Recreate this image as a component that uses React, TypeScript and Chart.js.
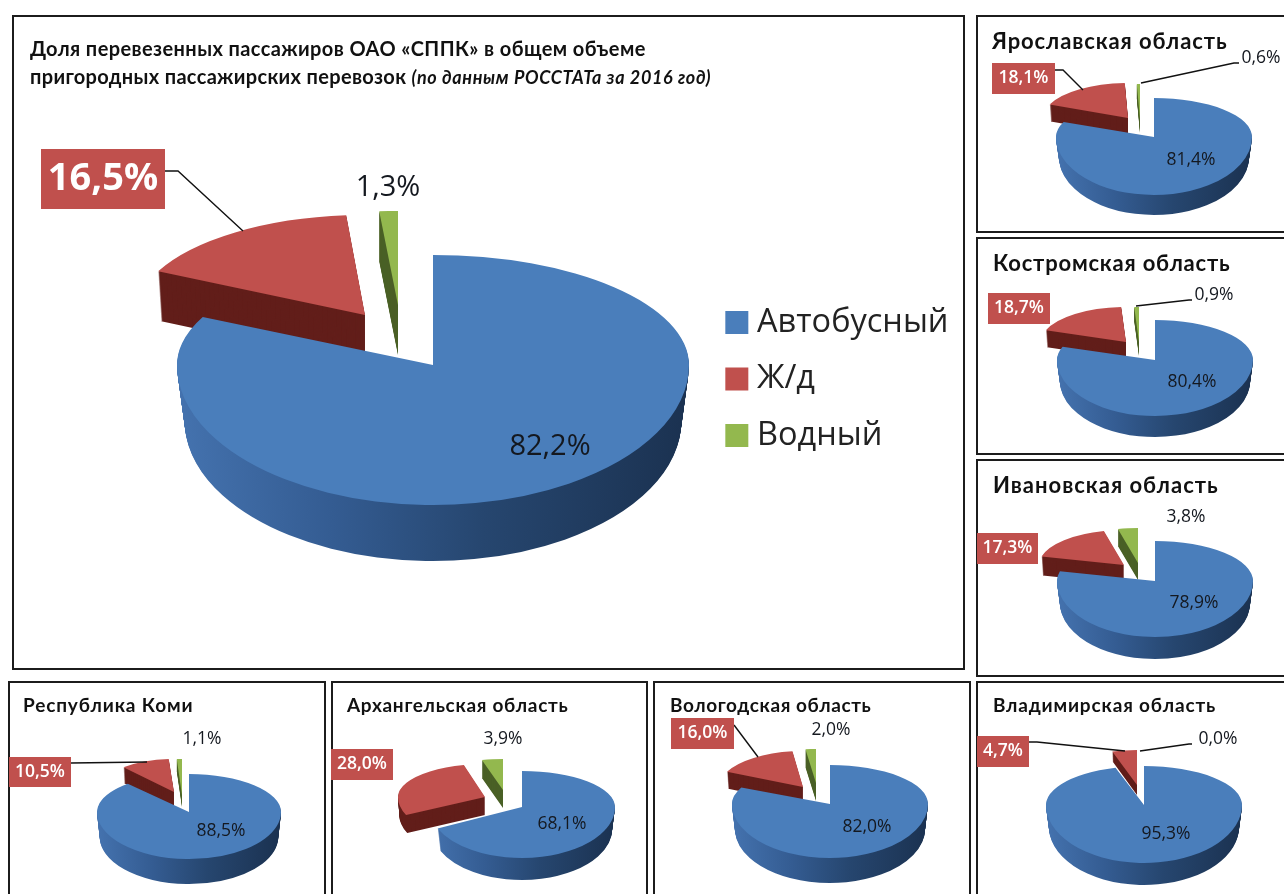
import React, { useEffect, useRef } from "react";
import { Chart, registerables } from "chart.js";

Chart.register(...registerables);

const modes = ["Автобусный", "Ж/д", "Водный"];
const regions = [
  "Всего",
  "Ярославская область",
  "Костромская область",
  "Ивановская область",
  "Республика Коми",
  "Архангельская область",
  "Вологодская область",
  "Владимирская область",
];
const busShare = [82.2, 81.4, 80.4, 78.9, 88.5, 68.1, 82.0, 95.3];
const railShare = [16.5, 18.1, 18.7, 17.3, 10.5, 28.0, 16.0, 4.7];
const waterShare = [1.3, 0.6, 0.9, 3.8, 1.1, 3.9, 2.0, 0.0];

const FONT = '"Open Sans", "Noto Sans", sans-serif';
const TITLE_FONT = 'Lato, "Open Sans", sans-serif';
const BLUE = "#4A7EBB";
const RED = "#C0504D";
const GREEN = "#93B84E";
const SHRINK = [0.03, 0.015, 0];

type Slice = { ax: number; ay: number; rx: number; up: number; down: number; depth: number };
type Layout = {
  rect: [number, number, number, number];
  title?: { left: number; top: number; size: number; spacing: number };
  slices: [Slice, Slice, Slice];
  busAt: [number, number];
  waterAt: [number, number];
  box: [number, number, number, number];
  boxFont: number;
  boxWeight: number;
  labelFont: number;
  railLeader?: [number, number][];
  waterLeader?: [number, number][];
};

const s = (ax: number, ay: number, rx: number, up: number, down: number, depth: number): Slice => ({ ax, ay, rx, up, down, depth });

const layouts: Layout[] = [
  {
    rect: [12, 15, 953, 655],
    slices: [s(433, 365, 256, 110, 140, 56), s(365, 315, 230, 100, 100, 50), s(398, 305, 230, 94, 94, 50)],
    busAt: [550, 447],
    waterAt: [388, 188],
    box: [41, 149, 124, 60],
    boxFont: 38,
    boxWeight: 700,
    labelFont: 29,
    railLeader: [[165, 171], [178, 171], [243, 231]],
  },
  {
    rect: [976, 15, 320, 218],
    title: { left: 992, top: 28, size: 22, spacing: 0.9 },
    slices: [s(1154, 137, 98, 39, 58, 20), s(1128, 118, 85, 35, 35, 17), s(1140, 119, 85, 35, 35, 14)],
    busAt: [1191, 160],
    waterAt: [1261, 58],
    box: [992, 63, 63, 31],
    boxFont: 17.5,
    boxWeight: 600,
    labelFont: 17.5,
    railLeader: [[1055, 70], [1063, 70], [1083, 90]],
    waterLeader: [[1239, 63], [1234, 63], [1141, 83]],
  },
  {
    rect: [976, 237, 320, 218],
    title: { left: 993, top: 250, size: 22, spacing: 0.8 },
    slices: [s(1155, 360, 98, 40, 56, 21), s(1126, 342, 85, 35, 35, 17), s(1139, 342, 85, 35, 35, 14)],
    busAt: [1192, 382],
    waterAt: [1214, 295],
    box: [988, 293, 62, 31],
    boxFont: 17.5,
    boxWeight: 600,
    labelFont: 17.5,
    waterLeader: [[1192, 300], [1189, 300], [1136, 306]],
  },
  {
    rect: [976, 459, 320, 218],
    title: { left: 993, top: 472, size: 22, spacing: 1 },
    slices: [s(1155, 581, 98, 40, 56, 22), s(1124, 565, 85, 35, 35, 19), s(1138, 563, 85, 35, 35, 17)],
    busAt: [1194, 603],
    waterAt: [1186, 517],
    box: [977, 533, 61, 31],
    boxFont: 17.5,
    boxWeight: 600,
    labelFont: 17.5,
  },
  {
    rect: [8, 681, 318, 230],
    title: { left: 23, top: 692, size: 19, spacing: 0.85 },
    slices: [s(189, 812, 92, 38, 47, 25), s(174, 792, 76, 33, 33, 16), s(182, 795, 76, 36, 36, 12)],
    busAt: [221, 831],
    waterAt: [202, 739],
    box: [9, 757, 62, 30],
    boxFont: 17.5,
    boxWeight: 600,
    labelFont: 17.5,
    railLeader: [[71, 763], [147, 762]],
  },
  {
    rect: [331, 681, 317, 230],
    title: { left: 347, top: 692, size: 19, spacing: 0.7 },
    slices: [s(522, 807, 93, 36, 51, 22), s(485, 797, 87, 33, 43, 18), s(503, 790, 87, 31, 31, 18)],
    busAt: [562, 824],
    waterAt: [503, 739],
    box: [331, 749, 62, 31],
    boxFont: 17.5,
    boxWeight: 600,
    labelFont: 17.5,
  },
  {
    rect: [653, 681, 318, 230],
    title: { left: 670, top: 692, size: 19, spacing: 0.6 },
    slices: [s(830, 804, 98, 39, 54, 25), s(803, 787, 84, 36, 36, 17), s(816, 783, 84, 34, 34, 18)],
    busAt: [867, 827],
    waterAt: [831, 730],
    box: [671, 718, 63, 31],
    boxFont: 17.5,
    boxWeight: 600,
    labelFont: 17.5,
    railLeader: [[734, 725], [758, 757]],
  },
  {
    rect: [976, 681, 320, 230],
    title: { left: 993, top: 692, size: 19, spacing: 0.85 },
    slices: [s(1144, 805, 98, 39, 58, 22), s(1137, 785, 85, 35, 35, 10), s(1140, 785, 85, 35, 35, 10)],
    busAt: [1166, 834],
    waterAt: [1218, 739],
    box: [977, 736, 52, 31],
    boxFont: 17.5,
    boxWeight: 600,
    labelFont: 17.5,
    railLeader: [[1029, 742], [1037, 742], [1125, 751]],
    waterLeader: [[1192, 744], [1189, 744], [1140, 751]],
  },
];

const fmt = (v: number) => v.toFixed(1).replace(".", ",") + "%";

function plainOptions(fill: any) {
  return {
    backgroundColor: fill,
    borderColor: fill,
    borderWidth: 0,
    borderAlign: "center",
    borderDash: [],
    borderDashOffset: 0,
    borderJoinStyle: "round",
    circular: true,
    offset: 0,
    spacing: 0,
    borderRadius: 0,
    selfJoin: false,
  };
}

function paintArc(ctx: CanvasRenderingContext2D, arc: any, g: Slice, originX: number, originY: number, shift: number, fill: any, width: number, height: number, shrink: number) {
  const saved = arc.options;
  arc.options = plainOptions(fill);
  const py = Math.round(g.ay - originY + shift);
  const px = g.ax - originX;
  const narrow = 1 - (shrink * shift) / g.depth;
  const parts: [number, number, number][] = [
    [-10, py + 10, g.up],
    [py, height - py + 10, g.down],
  ];
  for (const [top, h, ry] of parts) {
    ctx.save();
    ctx.beginPath();
    ctx.rect(-10, top, width + 20, h);
    ctx.clip();
    ctx.translate(px, py);
    ctx.scale((g.rx * narrow) / arc.outerRadius, ry / arc.outerRadius);
    ctx.translate(-arc.x, -arc.y);
    arc.draw(ctx);
    ctx.restore();
  }
  arc.options = saved;
}

function sideFill(ctx: CanvasRenderingContext2D, arc: any, index: number) {
  if (index === 1) return "#621E1A";
  if (index === 2) return "#4B6127";
  const r = arc.outerRadius;
  const grad = ctx.createLinearGradient(arc.x - r, 0, arc.x + r, 0);
  grad.addColorStop(0, "#4472AE");
  grad.addColorStop(0.3, "#345C92");
  grad.addColorStop(0.6, "#26466F");
  grad.addColorStop(1, "#1B3251");
  return grad;
}

function pie3dPlugin(layout: Layout, values: number[]) {
  return {
    id: "pie3d",
    beforeDatasetsDraw(chart: any) {
      const ctx: CanvasRenderingContext2D = chart.ctx;
      const arcs = chart.getDatasetMeta(0).data;
      const [ox, oy, w, h] = layout.rect;
      for (const i of [2, 1, 0]) {
        if (!values[i]) continue;
        const arc = arcs[i];
        const g = layout.slices[i];
        const side = sideFill(ctx, arc, i);
        for (let d = g.depth; d >= 1; d--) paintArc(ctx, arc, g, ox, oy, d, side, w, h, SHRINK[i]);
        paintArc(ctx, arc, g, ox, oy, 0, [BLUE, RED, GREEN][i], w, h, 0);
      }
      const path = (pts?: [number, number][]) => {
        if (!pts) return;
        ctx.save();
        ctx.strokeStyle = "#111";
        ctx.lineWidth = 1.4;
        ctx.beginPath();
        pts.forEach(([x, y], k) => (k ? ctx.lineTo(x - ox, y - oy) : ctx.moveTo(x - ox, y - oy)));
        ctx.stroke();
        ctx.restore();
      };
      path(layout.railLeader);
      path(layout.waterLeader);
      ctx.save();
      ctx.textAlign = "center";
      ctx.textBaseline = "middle";
      ctx.fillStyle = "#14181f";
      ctx.font = `${layout.labelFont}px ${FONT}`;
      ctx.fillText(fmt(values[0]), layout.busAt[0] - ox, layout.busAt[1] - oy);
      ctx.fillText(fmt(values[2]), layout.waterAt[0] - ox, layout.waterAt[1] - oy);
      const [bx, by, bw, bh] = layout.box;
      ctx.fillStyle = RED;
      ctx.fillRect(bx - ox, by - oy, bw, bh);
      ctx.fillStyle = "#fff";
      ctx.font = `${layout.boxWeight} ${layout.boxFont}px ${FONT}`;
      ctx.fillText(fmt(values[1]), bx + bw / 2 - ox, by + bh / 2 - oy);
      ctx.restore();
      return false;
    },
  };
}

function Panel({ index }: { index: number }) {
  const ref = useRef<HTMLCanvasElement | null>(null);
  const layout = layouts[index];
  const [x, y, w, h] = layout.rect;
  useEffect(() => {
    if (!ref.current) return;
    const values = [busShare[index], railShare[index], waterShare[index]];
    const isMain = index === 0;
    const chart = new Chart(ref.current, {
      type: "pie",
      data: {
        labels: modes,
        datasets: [{ label: regions[index], data: values, backgroundColor: [BLUE, RED, GREEN], borderWidth: 0, radius: layout.slices[0].rx }],
      },
      plugins: [pie3dPlugin(layout, values)],
      options: {
        responsive: false,
        animation: false,
        layout: isMain ? { padding: { top: 73, right: 6.5 } } : undefined,
        plugins: {
          tooltip: { enabled: false },
          title: { display: false },
          legend: {
            display: isMain,
            position: "right",
            labels: {
              color: "#222",
              usePointStyle: true,
              pointStyle: "rect",
              boxWidth: 8,
              boxHeight: 23,
              padding: 24,
              font: { family: FONT, size: 32.5 },
            },
          },
        },
      },
    } as any);
    return () => chart.destroy();
  }, [index]);
  const t = layout.title;
  return (
    <>
      <div style={{ position: "absolute", left: x, top: y, width: w, height: h, boxSizing: "border-box", border: "2px solid #1c1c1c", background: "#fff" }} />
      <canvas ref={ref} width={w} height={h} style={{ position: "absolute", left: x, top: y, width: w, height: h }} />
      {t && (
        <div style={{ position: "absolute", left: t.left, top: t.top, font: `700 ${t.size}px/26px ${TITLE_FONT}`, letterSpacing: t.spacing, color: "#111", whiteSpace: "nowrap" }}>
          {regions[index]}
        </div>
      )}
    </>
  );
}

export default function App() {
  return (
    <div style={{ position: "absolute", left: 0, top: 0, width: 1284, height: 894, overflow: "hidden", background: "#fff" }}>
      {regions.map((_, i) => (
        <Panel key={i} index={i} />
      ))}
      <div style={{ position: "absolute", left: 30, top: 36, font: `700 20px/24px ${TITLE_FONT}`, letterSpacing: 0.4, color: "#111", whiteSpace: "nowrap" }}>
        Доля перевезенных пассажиров ОАО «СППК» в общем объеме
      </div>
      <div style={{ position: "absolute", left: 30, top: 64, font: `700 20px/24px ${TITLE_FONT}`, letterSpacing: 0.33, color: "#111", whiteSpace: "nowrap" }}>
        пригородных пассажирских перевозок <i style={{ fontSize: 18, letterSpacing: 0.65 }}>(по данным РОССТАТа за 2016 год)</i>
      </div>
    </div>
  );
}
